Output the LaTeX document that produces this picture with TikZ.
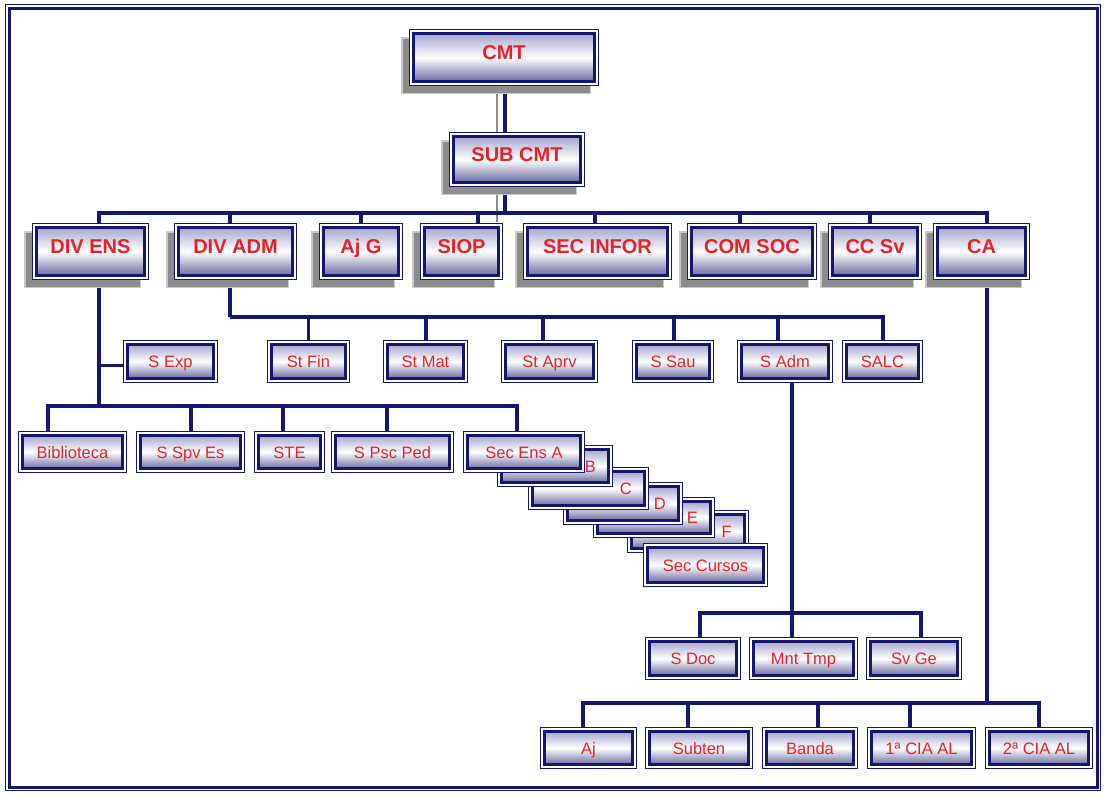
\documentclass[tikz,border=0pt]{standalone}
\usepackage{fontspec}
\setmainfont{Liberation Sans}
\definecolor{dnavy}{RGB}{22,22,110}
\definecolor{shtop}{RGB}{165,165,205}
\definecolor{shbot}{RGB}{105,105,160}
\definecolor{lblred}{RGB}{228,34,40}
\definecolor{shgray}{RGB}{140,140,140}
\definecolor{shlight}{RGB}{200,200,200}
\pgfdeclarelayer{back}
\pgfdeclarelayer{bg}
\pgfsetlayers{back,bg,main}
\tikzset{
  wh/.style 2 args={minimum width={(#1-8.4)*1pt}, minimum height={(#2-8.4)*1pt}},
  orgbox/.style={draw=dnavy, line width=3.2pt,
    preaction={draw=dnavy, line width=8.4pt},
    preaction={draw=white, line width=6pt},
    top color=shtop, bottom color=shbot, middle color=white,
    text=lblred, inner sep=0pt, outer sep=0pt},
  shadowed/.style={
    preaction={draw=shlight, line width=8.4pt,
      transform canvas={xshift=-8pt, yshift=-8pt}},
    preaction={fill=shgray, draw=shgray, line width=5.4pt,
      transform canvas={xshift=-8pt, yshift=-8pt}}},
  bigbox/.style={shadowed, orgbox, font=\bfseries\fontsize{20}{22}\selectfont,
    text height=14pt, text depth=10pt},
  smallbox/.style={orgbox, font=\fontsize{16.5}{18}\selectfont,
    text height=12pt, text depth=0pt},
  cascbox/.style={smallbox, inner xsep=13pt, align=right, text width=#1},
  conn/.style={draw=dnavy, line width=3.2pt},
  connshadow/.style={draw=shgray, line width=2.5pt},
}
\begin{document}
\begin{tikzpicture}[x=1pt, y=-1pt]
\useasboundingbox (0,0) rectangle (1106,796);
\begin{pgfonlayer}{back}
  \fill[white] (0,0) rectangle (1106,796);
\end{pgfonlayer}

% level 0 / 1
\node[bigbox, wh={190}{57}] (cmt) at (504,57.5) {CMT};
\node[bigbox, wh={136}{55}] (subcmt) at (517,159.5) {SUB CMT};

% top row
\node[bigbox, wh={117}{57}] (divens) at (90.5,251.5) {DIV ENS};
\node[bigbox, wh={123}{57}] (divadm) at (235.5,251.5) {DIV ADM};
\node[bigbox, wh={84}{57}] (ajg) at (361,251.5) {Aj G};
\node[bigbox, wh={83}{57}] (siop) at (461.5,251.5) {SIOP};
\node[bigbox, wh={149}{57}] (secinfor) at (597.5,251.5) {SEC INFOR};
\node[bigbox, wh={130}{57}] (comsoc) at (752,251.5) {COM SOC};
\node[bigbox, wh={94}{57}] (ccsv) at (875,251.5) {CC Sv};
\node[bigbox, wh={97}{57}] (ca) at (981.5,251.5) {CA};

% DIV ADM row
\node[smallbox, wh={95}{43}] (sexp) at (170.5,361.5) {S Exp};
\node[smallbox, wh={83}{43}] (stfin) at (308.5,361.5) {St Fin};
\node[smallbox, wh={85}{43}] (stmat) at (425.5,361.5) {St Mat};
\node[smallbox, wh={97}{43}] (staprv) at (549.5,361.5) {St Aprv};
\node[smallbox, wh={82}{43}] (ssau) at (673,361.5) {S Sau};
\node[smallbox, wh={96}{43}] (sadm) at (785,361.5) {S Adm};
\node[smallbox, wh={81}{43}] (salc) at (882.5,361.5) {SALC};

% DIV ENS row
\node[smallbox, wh={109}{42}] (bibl) at (72.5,452) {Biblioteca};
\node[smallbox, wh={109}{42}] (sspves) at (190.5,452) {S Spv Es};
\node[smallbox, wh={71}{42}] (ste) at (289.5,452) {STE};
\node[smallbox, wh={123}{42}] (spscped) at (392.5,452) {S Psc Ped};

% cascade
\node[cascbox=87.6pt, wh={122}{43}] (secf) at (688,531.5) {F};
\node[smallbox, wh={125}{44}] (seccursos) at (705.5,565) {Sec Cursos};
\node[cascbox=87.6pt, wh={122}{41}] (sece) at (654,517.5) {E};
\node[cascbox=85.6pt, wh={120}{43}] (secd) at (623,503.5) {D};
\node[cascbox=86.6pt, wh={121}{43}] (secc) at (588.5,488.5) {C};
\node[cascbox=81.6pt, wh={116}{42}] (secb) at (555,466) {B};
\node[smallbox, wh={122}{42}] (secensa) at (524,452) {Sec Ens A};

% S Adm row
\node[smallbox, wh={96}{43}] (sdoc) at (693,658.5) {S Doc};
\node[smallbox, wh={109}{43}] (mnttmp) at (803.5,658.5) {Mnt Tmp};
\node[smallbox, wh={96}{43}] (svge) at (914,658.5) {Sv Ge};

% CA row
\node[smallbox, wh={97}{42}] (aj) at (588.5,748) {Aj};
\node[smallbox, wh={108}{42}] (subten) at (699,748) {Subten};
\node[smallbox, wh={96}{42}] (banda) at (810,748) {Banda};
\node[smallbox, wh={109}{42}] (cia1) at (921.5,748) {1ª CIA AL};
\node[smallbox, wh={108}{42}] (cia2) at (1039,748) {2ª CIA AL};

% connectors
\begin{pgfonlayer}{bg}
  \coordinate (sh1) at (497,222);
  \draw[connshadow] ([xshift=-7pt]cmt.south) -- ([xshift=-7pt]cmt.south |- subcmt.north);
  \draw[connshadow] (subcmt.south -| sh1) -- (sh1);

  \draw[conn] ([xshift=1pt]cmt.south) -- ([xshift=1pt]cmt.south |- subcmt.north);
  \coordinate (bus1) at (505,213);
  \draw[conn] (subcmt.south -| bus1) -- (bus1);
  \foreach \n/\dx in {divens/8.5, divadm/-5.5, ajg/0, siop/16.5, secinfor/-2.5, comsoc/-12, ccsv/-5, ca/5.5}
    \draw[conn] (bus1) -| ([xshift=\dx pt]\n.north);

  \coordinate (bus2) at (230,317);
  \draw[conn] (divadm.south -| bus2) -- (bus2);
  \foreach \n/\dx in {stfin/0, stmat/0.5, staprv/-6.5, ssau/1, sadm/-7, salc/0.5}
    \draw[conn] (bus2) -| ([xshift=\dx pt]\n.north);

  \coordinate (bus3) at (99,406);
  \draw[conn] (divens.south -| bus3) -- (bus3);
  \draw[conn] (divens.south -| bus3) |- ([yshift=-4pt]sexp.west);
  \foreach \n/\dx in {bibl/-24.5, sspves/0.5, ste/-6.5, spscped/-5.5, secensa/-7}
    \draw[conn] (bus3) -| ([xshift=\dx pt]\n.north);

  \coordinate (bus4) at (792,613);
  \draw[conn] (sadm.south -| bus4) -- (bus4);
  \foreach \n/\dx in {sdoc/7, mnttmp/-11.5, svge/7}
    \draw[conn] (bus4) -| ([xshift=\dx pt]\n.north);

  \coordinate (bus5) at (987,703);
  \draw[conn] (ca.south -| bus5) -- (bus5);
  \foreach \n/\dx in {aj/-5.5, subten/-11, banda/8, cia1/-11.5, cia2/0}
    \draw[conn] (bus5) -| ([xshift=\dx pt]\n.north);
\end{pgfonlayer}

% outer frame
\draw[dnavy, line width=1.2pt] (5.5,4.5) rectangle (1100.5,790.5);
\draw[dnavy, line width=3pt] (9.5,8) rectangle (1097,787);
\end{tikzpicture}
\end{document}
